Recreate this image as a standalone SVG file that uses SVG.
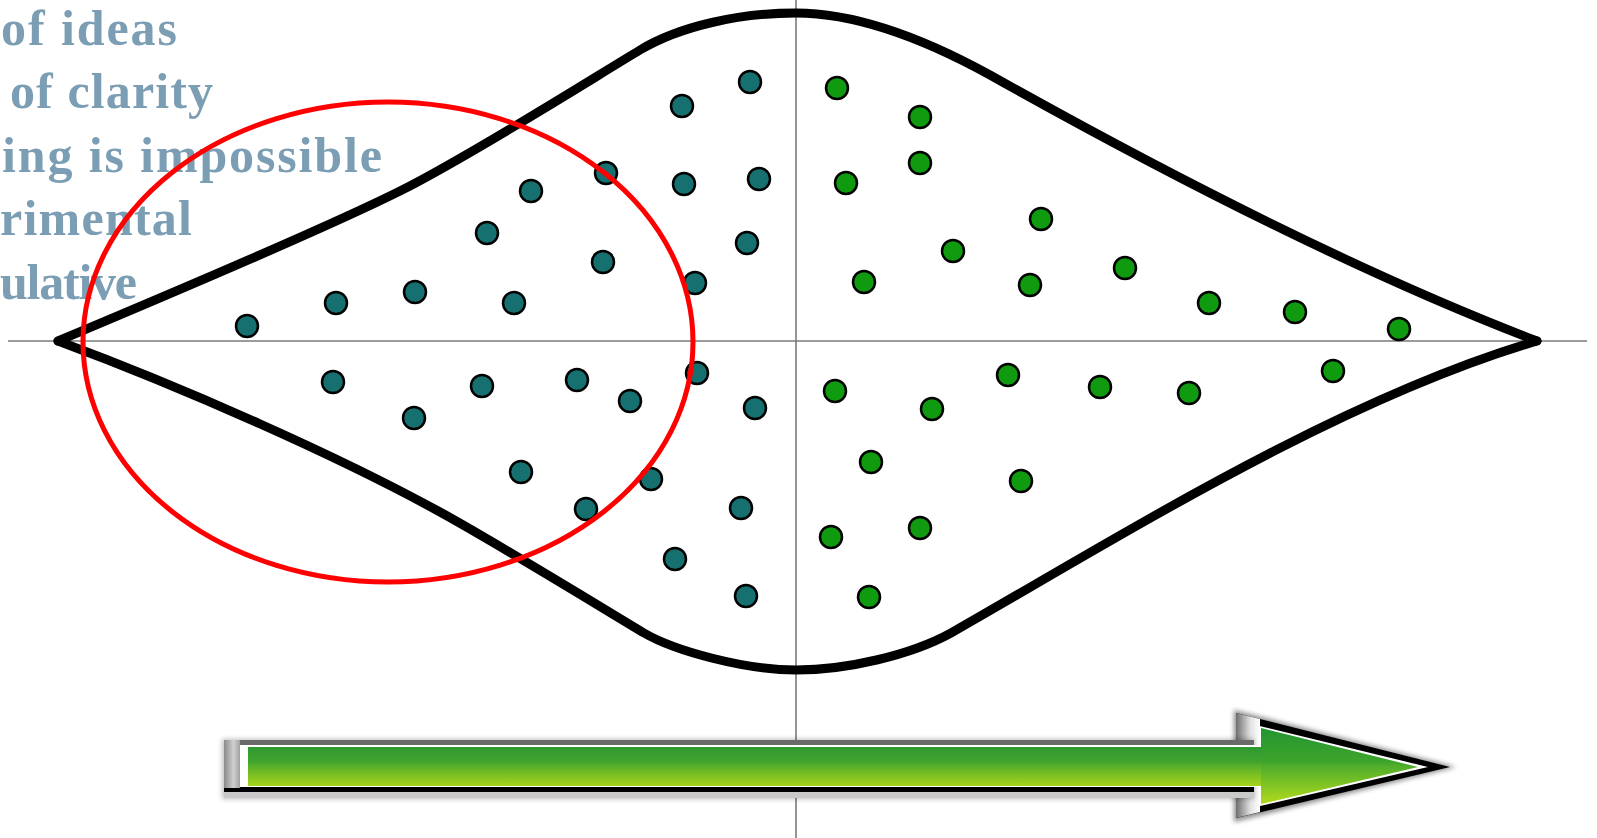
<svg xmlns="http://www.w3.org/2000/svg" width="1597" height="838" viewBox="0 0 1597 838">
<style>
.txt{font-family:"Liberation Serif","Times New Roman",serif;font-weight:bold;font-size:50px;fill:#7b9eb4}
.axis{stroke:#7a7a7a;stroke-width:1.6;fill:none}
.env{stroke:#000;stroke-width:9;fill:none;stroke-linejoin:round;stroke-linecap:round}
.teal{fill:#177070;stroke:#000;stroke-width:2.5}
.green{fill:#0f9a0f;stroke:#000;stroke-width:2.5}
.focus{fill:none;stroke:#ff0000;stroke-width:5}
</style>
<defs>
<linearGradient id="gShaft" x1="0" y1="0" x2="0" y2="1">
<stop offset="0" stop-color="#2e9830"/>
<stop offset="0.4" stop-color="#42a52e"/>
<stop offset="0.46" stop-color="#54ae2a"/>
<stop offset="1" stop-color="#a6d41c"/>
</linearGradient>
<linearGradient id="gHead" x1="0" y1="0" x2="0" y2="1">
<stop offset="0" stop-color="#239430"/>
<stop offset="0.45" stop-color="#3ea52c"/>
<stop offset="0.5" stop-color="#4fae2a"/>
<stop offset="1" stop-color="#b2da1e"/>
</linearGradient>
<linearGradient id="gCap" x1="0" y1="0" x2="1" y2="0">
<stop offset="0" stop-color="#8a8a8a"/>
<stop offset="0.6" stop-color="#d0d0d0"/>
<stop offset="1" stop-color="#a0a0a0"/>
</linearGradient>
<linearGradient id="gBevel" x1="0" y1="0" x2="1" y2="0">
<stop offset="0" stop-color="#6e6e6e"/>
<stop offset="0.6" stop-color="#e2e2e2"/>
<stop offset="1" stop-color="#ffffff"/>
</linearGradient>
<filter id="soft" x="-10%" y="-20%" width="120%" height="140%">
<feGaussianBlur stdDeviation="2.5"/>
</filter>
</defs>
<rect width="1597" height="838" fill="#ffffff"/>

<g id="axes">
<line class="axis" x1="8" y1="341" x2="1587" y2="341"/>
<line class="axis" x1="796" y1="0" x2="796" y2="838"/>
</g>

<g id="label-text">
<text class="txt" x="1" y="45" textLength="176">of ideas</text>
<text class="txt" x="10" y="108" textLength="203">of clarity</text>
<text class="txt" x="2" y="172" textLength="380">ing is impossible</text>
<text class="txt" x="0" y="235" textLength="192">rimental</text>
<text class="txt" x="0" y="299" textLength="137">ulative</text>
</g>

<g id="envelope">
<path class="env" d="M58,341 C170,294 330,226 400,191 C470,156 590,80 640,50 C680,26 740,13 796,13 C860,13 930,42 990,75 C1170,176 1367,276 1537,341"/>
<path class="env" d="M58,341 C185,388 340,457 440,512 C500,545 604,609 644,633 C675,651 745,670 796,670 C847,670 911,655 951,633 C1121,536 1337,400 1537,341"/>
</g>

<g id="teal-dots">
<circle class="teal" cx="750" cy="82" r="11"/>
<circle class="teal" cx="682" cy="106" r="11"/>
<circle class="teal" cx="606" cy="173" r="11"/>
<circle class="teal" cx="684" cy="184" r="11"/>
<circle class="teal" cx="759" cy="179" r="11"/>
<circle class="teal" cx="531" cy="191" r="11"/>
<circle class="teal" cx="487" cy="233" r="11"/>
<circle class="teal" cx="603" cy="262" r="11"/>
<circle class="teal" cx="747" cy="243" r="11"/>
<circle class="teal" cx="695" cy="283" r="11"/>
<circle class="teal" cx="415" cy="292" r="11"/>
<circle class="teal" cx="336" cy="303" r="11"/>
<circle class="teal" cx="514" cy="303" r="11"/>
<circle class="teal" cx="247" cy="326" r="11"/>
<circle class="teal" cx="333" cy="382" r="11"/>
<circle class="teal" cx="414" cy="418" r="11"/>
<circle class="teal" cx="482" cy="386" r="11"/>
<circle class="teal" cx="577" cy="380" r="11"/>
<circle class="teal" cx="630" cy="401" r="11"/>
<circle class="teal" cx="697" cy="373" r="11"/>
<circle class="teal" cx="755" cy="408" r="11"/>
<circle class="teal" cx="521" cy="472" r="11"/>
<circle class="teal" cx="651" cy="479" r="11"/>
<circle class="teal" cx="586" cy="509" r="11"/>
<circle class="teal" cx="741" cy="508" r="11"/>
<circle class="teal" cx="675" cy="559" r="11"/>
<circle class="teal" cx="746" cy="596" r="11"/>
</g>

<g id="green-dots">
<circle class="green" cx="837" cy="88" r="11"/>
<circle class="green" cx="920" cy="117" r="11"/>
<circle class="green" cx="920" cy="163" r="11"/>
<circle class="green" cx="846" cy="183" r="11"/>
<circle class="green" cx="1041" cy="219" r="11"/>
<circle class="green" cx="953" cy="251" r="11"/>
<circle class="green" cx="864" cy="282" r="11"/>
<circle class="green" cx="1030" cy="285" r="11"/>
<circle class="green" cx="1125" cy="268" r="11"/>
<circle class="green" cx="1209" cy="303" r="11"/>
<circle class="green" cx="1295" cy="312" r="11"/>
<circle class="green" cx="1399" cy="329" r="11"/>
<circle class="green" cx="835" cy="391" r="11"/>
<circle class="green" cx="932" cy="409" r="11"/>
<circle class="green" cx="1008" cy="375" r="11"/>
<circle class="green" cx="1100" cy="387" r="11"/>
<circle class="green" cx="1189" cy="393" r="11"/>
<circle class="green" cx="1333" cy="371" r="11"/>
<circle class="green" cx="871" cy="462" r="11"/>
<circle class="green" cx="1021" cy="481" r="11"/>
<circle class="green" cx="831" cy="537" r="11"/>
<circle class="green" cx="920" cy="528" r="11"/>
<circle class="green" cx="869" cy="597" r="11"/>
</g>

<g id="focus-ellipse">
<ellipse class="focus" cx="388" cy="342" rx="305" ry="240"/>
</g>

<g id="progress-arrow">
<polygon points="1234,710 1456,767 1234,822" fill="#000" opacity="0.45" filter="url(#soft)"/>
<polygon points="1236,713 1450,767 1236,818" fill="#000"/>
<polygon points="1243,722 1428,767 1243,810" fill="#ffffff"/>
<polygon points="1236,713 1260,719 1260,812 1236,818" fill="url(#gBevel)"/>
<rect x="222" y="739" width="1032" height="60" fill="#000" opacity="0.25" filter="url(#soft)"/>
<rect x="224" y="740" width="1030" height="7" fill="#6a6a6a"/>
<rect x="224" y="786" width="1030" height="6" fill="#000"/>
<rect x="224" y="792" width="1030" height="6" fill="#c9c9c9"/>
<rect x="224" y="740" width="16" height="48" fill="url(#gCap)"/>
<rect x="240" y="745" width="1020" height="42" fill="#ffffff"/>
<rect x="248" y="747" width="1014" height="39" fill="url(#gShaft)"/>
<polygon points="1261,728 1418,767 1261,804" fill="url(#gHead)"/>
</g>
</svg>
